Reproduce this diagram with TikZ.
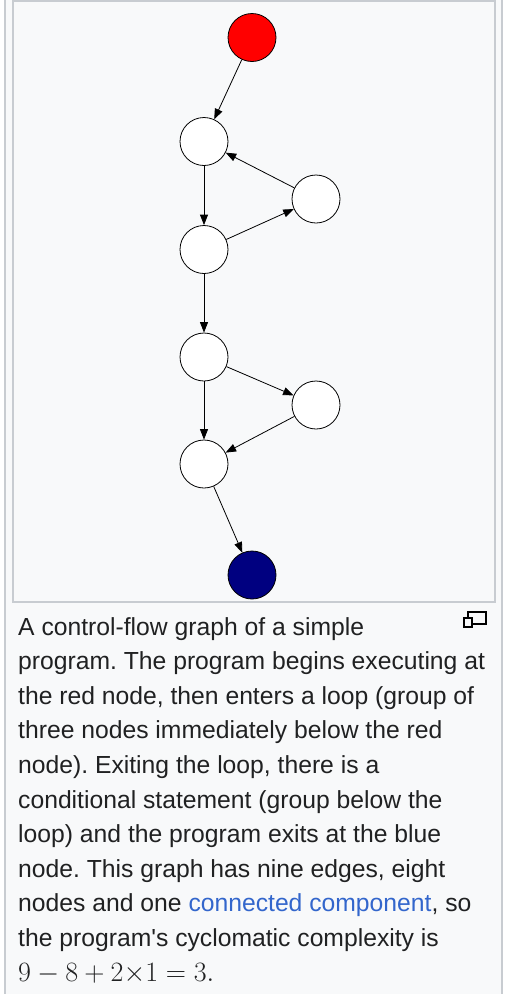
\documentclass[tikz,border=0pt]{standalone}
\usepackage{fix-cm}
\usepackage{fontspec}
\newfontfamily\capfont{Liberation Sans}
\usepackage{tikz}
\usetikzlibrary{calc,arrows.meta}
\definecolor{framegray}{HTML}{C8CCD1}
\definecolor{pagebg}{HTML}{F8F9FA}
\definecolor{captext}{HTML}{202122}
\definecolor{linkblue}{HTML}{3366CC}
\definecolor{exitblue}{HTML}{000080}
\frenchspacing

\begin{document}
\begin{tikzpicture}[x=1pt,y=-1pt,
  vertex/.style={circle,draw=black,line width=0.8pt,fill=white,minimum size=48pt,inner sep=0pt},
  edge/.style={line width=0.8pt,-{Triangle[length=10.5pt,width=8pt]}},
  capline/.style={anchor=base west,inner sep=0pt,text=captext,font=\capfont\fontsize{24.7}{34.6}\selectfont}]
\useasboundingbox (0,0) rectangle (504,994);

%%% FRAME
% outer thumb box, then the image box
\fill[pagebg] (5,0) rectangle (502,994);
\draw[framegray,line width=1.6pt] (5,0) -- (5,994) (502,0) -- (502,994);
\draw[framegray,line width=1.6pt,fill=pagebg] (13,1) rectangle (495,602);

%%% CONTROL-FLOW GRAPH
% entry and exit nodes
\node[vertex,fill=red] (s) at (252,37.5) {};
\node[vertex,fill=exitblue] (t) at (252,575) {};

% loop
\node[vertex] (a1) at (204,141.5) {};
\node[vertex] (a2) at (204,249.5) {};
\node[vertex] (r1) at (316,199) {};

% conditional
\node[vertex] (b1) at (204,357) {};
\node[vertex] (b2) at (204,464) {};
\node[vertex] (r2) at (316,405) {};

% the nine edges
\foreach \a/\b in {s/a1,a1/a2,a2/r1,r1/a1,a2/b1,b1/r2,b1/b2,r2/b2,b2/t}
  \draw[edge] (\a) -- (\b);

%%% CAPTION
% enlarge icon
\draw[black,line width=1.3pt] (468,612) rectangle (486,624);
\draw[black,line width=1.3pt,fill=pagebg] (464,618) rectangle (472,627);

% one node per printed line
\foreach \ln [count=\i] in {
  {A control-flow graph of a simple},
  {program. The program begins executing at},
  {the red node, then enters a loop (group of},
  {three nodes immediately below the red},
  {node). Exiting the loop, there is a},
  {conditional statement (group below the},
  {loop) and the program exits at the blue},
  {node. This graph has nine edges, eight},
  {nodes and one \textcolor{linkblue}{connected component}, so},
  {the program's cyclomatic complexity is}}
{
  \node[capline] (cap\i) at (18,{635+(\i-1)*34.6}) {\ln};
}
\node[anchor=base west,inner sep=0pt,text=captext,font=\fontsize{28}{34.6}\selectfont] (capmath) at (18,981) {$9-8+2{\times}1=3.$};
\end{tikzpicture}
\end{document}
